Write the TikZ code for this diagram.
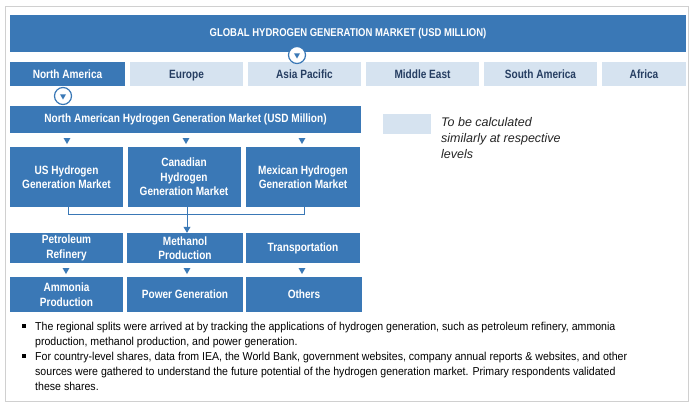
\documentclass[tikz,border=0pt]{standalone}
\usepackage{fontspec}
\setmainfont{Liberation Sans}
\newfontfamily\cond[FakeStretch=0.84]{Liberation Sans}
\newfontfamily\notefont[FakeStretch=0.92]{Liberation Sans}
\usetikzlibrary{shapes.geometric,arrows.meta}

\definecolor{hblue}{RGB}{58,120,182}
\definecolor{hlight}{RGB}{214,227,240}
\definecolor{hnavy}{RGB}{38,62,98}
\definecolor{hframe}{RGB}{208,208,208}

\tikzset{
  darkbox/.style={fill=hblue, text=white, inner sep=0, align=center,
    font=\cond\bfseries\fontsize{12}{14.5}\selectfont},
  lightbox/.style={fill=hlight, text=hnavy, inner sep=0, align=center,
    font=\cond\bfseries\fontsize{12}{14.5}\selectfont},
  region/.style={minimum height=24, text height=10, text depth=1.4},
  tri/.style={regular polygon, regular polygon sides=3, shape border rotate=180,
    fill=hblue, inner sep=0, minimum size=8},
  ring/.style={circle, draw=hblue, line width=1.2, fill=white, inner sep=0, minimum size=17},
  note/.style={anchor=north west, inner sep=0, align=left,
    font=\notefont\fontsize{11.5}{15}\selectfont},
  dot/.style={fill=black, inner sep=0, minimum size=3.6}
}

\begin{document}
\begin{tikzpicture}[x=1pt,y=-1pt]
        \useasboundingbox (0,0) rectangle (693,407);
        \fill [white] (0,0) rectangle (693,407);
        \draw [hframe] (5,6) rectangle (688,401);

        % top level
        \node [darkbox, minimum width=676, minimum height=37,
               font=\cond\bfseries\fontsize{11.3}{13}\selectfont] (global) at (348,33.5)
              {GLOBAL HYDROGEN GENERATION MARKET (USD MILLION)};

        % regions
        \node [darkbox, region, minimum width=115] (na) at (67.5,74) {North America};
        \node [lightbox, region, minimum width=113] (eu) at (186.5,74) {Europe};
        \node [lightbox, region, minimum width=113] (ap) at (304.5,74) {Asia Pacific};
        \node [lightbox, region, minimum width=113] (me) at (422.5,74) {Middle East};
        \node [lightbox, region, minimum width=113] (sa) at (540.5,74) {South America};
        \node [lightbox, region, minimum width=84] (af) at (644,74) {Africa};

        \node [ring] (ring1) at (297,55) {};
        \node [tri, minimum size=7] (r1) at (ring1) {};
        \node [ring] (ring2) at (63,96) {};
        \node [tri, minimum size=7] (r2) at (ring2) {};

        % north america
        \node [darkbox, minimum width=351, minimum height=27] (namarket) at (185.5,119.5)
              {North American Hydrogen Generation Market (USD Million)};
        \node [tri] (t1) at (67,140) {};
        \node [tri] (t2) at (186,140) {};
        \node [tri] (t3) at (302,140) {};

        \node [darkbox, minimum width=113, minimum height=60] (us) at (66.5,177)
              {US Hydrogen\\Generation Market};
        \node [darkbox, minimum width=113, minimum height=60] (can) at (184,177)
              {Canadian\\Hydrogen\\Generation Market};
        \node [darkbox, minimum width=114, minimum height=60] (mex) at (303,177)
              {Mexican Hydrogen\\Generation Market};

        % applications
        \node [darkbox, minimum width=113, minimum height=30] (pet) at (66.5,248)
              {Petroleum\\Refinery};
        \node [darkbox, minimum width=116, minimum height=30] (meth) at (185,248)
              {Methanol\\Production};
        \node [darkbox, minimum width=114, minimum height=30] (trans) at (303,248)
              {Transportation};
        \node [tri] (t4) at (66,270) {};
        \node [tri] (t5) at (187,270) {};
        \node [tri] (t6) at (302,270) {};
        \node [darkbox, minimum width=113, minimum height=35] (amm) at (66.5,294.5)
              {Ammonia\\Production};
        \node [darkbox, minimum width=116, minimum height=35] (power) at (185,294.5)
              {Power Generation};
        \node [darkbox, minimum width=116, minimum height=35] (others) at (304,294.5)
              {Others};

        \coordinate (us0) at (68,207);
        \coordinate (mx0) at (304,207);
        \coordinate (ca0) at (187,207);
        \draw [hblue, line width=0.8] (us0) -- (68,214) -- (304,214) -- (mx0);
        \draw [hblue, line width=0.8, -{Triangle[width=7pt,length=6pt]}] (ca0) -- (ca0 |- meth.north);

        % legend
        \node [fill=hlight, minimum width=48, minimum height=20, inner sep=0] (key) at (407,124) {};
        \node [anchor=north west, inner sep=0, align=left,
               font=\itshape\fontsize{12.5}{16}\selectfont, text=black!85] (keytext) at (441,117)
              {To be calculated\\similarly at respective\\levels};

        % notes
        \node [dot] (b1) at (24,326) {};
        \node [note] (n1) at (35,321.5)
              {The regional splits were arrived at by tracking the applications of hydrogen generation, such as petroleum refinery, ammonia\\
               production, methanol production, and power generation.};
        \node [dot] (b2) at (24,356) {};
        \node [note] (n2) at (35,351.5)
              {For country-level shares, data from IEA, the World Bank, government websites, company annual reports \& websites, and other\\
               sources were gathered to understand the future potential of the hydrogen generation market. Primary respondents validated\\
               these shares.};

\end{tikzpicture}
\end{document}
